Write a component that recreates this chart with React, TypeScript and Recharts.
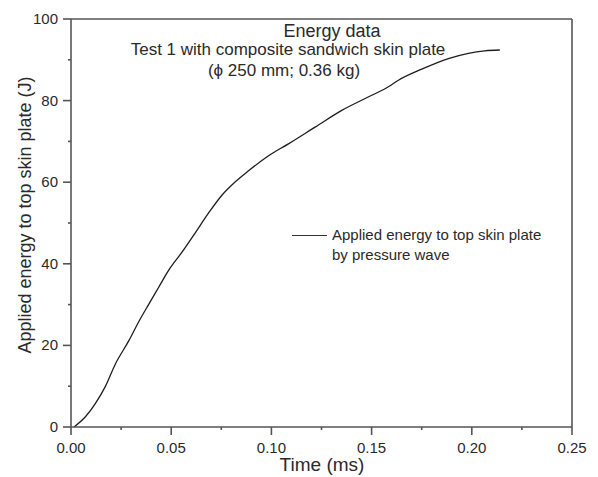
import { LineChart, Line, XAxis, YAxis, Legend, ReferenceLine } from 'recharts';

// values
const timeMs = [0.0015, 0.0072, 0.0122, 0.0171, 0.0221, 0.0288, 0.0338, 0.0387, 0.0437, 0.0487, 0.0553, 0.062, 0.0686, 0.0753, 0.082, 0.0886, 0.0986, 0.1085, 0.1218, 0.1351, 0.1501, 0.1584, 0.1634, 0.175, 0.1883, 0.1983, 0.2065, 0.214];
const energyJ = [0, 2.5, 5.8, 9.9, 15.4, 21.1, 25.8, 30.0, 34.2, 38.4, 42.8, 47.6, 52.4, 56.8, 60.1, 62.8, 66.5, 69.4, 73.5, 77.6, 81.3, 83.4, 85.0, 87.7, 90.3, 91.6, 92.2, 92.4];

const xTicks = [0, 0.025, 0.05, 0.075, 0.1, 0.125, 0.15, 0.175, 0.2, 0.225, 0.25];
const yTicks = [0, 10, 20, 30, 40, 50, 60, 70, 80, 90, 100];

const titleLines = ['Energy data', 'Test 1 with composite sandwich skin plate', '(\u03d5 250 mm; 0.36 kg)'];
const seriesName = ['Applied energy to top skin plate', 'by pressure wave'];
const xLabel = 'Time (ms)';
const yLabel = 'Applied energy to top skin plate (J)';

const data = timeMs.map((t, i) => ({ t, e: energyJ[i] }));

const FONT = '"Liberation Sans", Arial, sans-serif';
const INK = '#2a2a2a';
const AXIS = '#555';

const isMajor = (v: number, step: number) => Math.abs(v / step - Math.round(v / step)) < 1e-6;

function XTick({ x, y, payload }: any) {
    const major = isMajor(payload.value, 0.05);
    return (
        <g>
            <line x1={x} x2={x} y1={y} y2={y + (major ? 8 : 3)} stroke={AXIS} strokeWidth={1.6} />
            {major && (
                <text x={x} y={y + 26} textAnchor="middle" fontSize={15} fill={INK} fontFamily={FONT}>
                    {payload.value.toFixed(2)}
                </text>
            )}
        </g>
    );
}

function YTick({ x, y, payload }: any) {
    const major = isMajor(payload.value, 20);
    return (
        <g>
            <line x1={x - (major ? 8 : 3)} x2={x} y1={y} y2={y} stroke={AXIS} strokeWidth={1.6} />
            {major && (
                <text x={x - 13} y={y + 5} textAnchor="end" fontSize={15} fill={INK} fontFamily={FONT}>
                    {payload.value}
                </text>
            )}
        </g>
    );
}

function LegendBox() {
    return (
        <div style={{ display: 'flex', fontFamily: FONT, fontSize: 15, color: INK, lineHeight: '20px' }}>
            <div style={{ width: 35, height: 10, borderBottom: '1.3px solid #333', marginRight: 5 }} />
            <div style={{ textAlign: 'left' }}>
                {seriesName.map(s => <div key={s}>{s}</div>)}
            </div>
        </div>
    );
}

export default function App() {
    return (
        <div style={{ position: 'absolute', left: 0, top: 0, width: 598, height: 477, background: '#fff', overflow: 'hidden' }}>
            <LineChart width={598} height={477} data={data} margin={{ top: 19, right: 26, left: 11, bottom: 0 }}>
                <XAxis
                    dataKey="t"
                    type="number"
                    domain={[0, 0.25]}
                    ticks={xTicks}
                    interval={0}
                    height={50}
                    tickSize={0}
                    tickMargin={0}
                    tickLine={false}
                    tick={<XTick />}
                    axisLine={{ stroke: AXIS, strokeWidth: 1.6 }}
                />
                <YAxis
                    type="number"
                    domain={[0, 100]}
                    ticks={yTicks}
                    interval={0}
                    width={60}
                    tickSize={0}
                    tickMargin={0}
                    tickLine={false}
                    tick={<YTick />}
                    axisLine={{ stroke: AXIS, strokeWidth: 1.6 }}
                />
                <ReferenceLine y={100} stroke={AXIS} strokeWidth={1.6} />
                <ReferenceLine x={0.25} stroke={AXIS} strokeWidth={1.6} />
                <Legend
                    layout="horizontal"
                    verticalAlign="middle"
                    align="center"
                    content={<LegendBox />}
                    wrapperStyle={{ position: 'absolute', left: 292, top: 225, width: 280 }}
                />
                <Line
                    type="monotone"
                    dataKey="e"
                    name={seriesName.join(' ')}
                    stroke="#1e1e1e"
                    strokeWidth={1.3}
                    dot={false}
                    isAnimationActive={false}
                />
            </LineChart>

            <div style={{ position: 'absolute', left: 332, top: 31, transform: 'translate(-50%, -50%)', fontFamily: FONT, fontSize: 18, color: INK, whiteSpace: 'nowrap' }}>
                {titleLines[0]}
            </div>
            <div style={{ position: 'absolute', left: 288, top: 50, transform: 'translate(-50%, -50%)', fontFamily: FONT, fontSize: 17, color: INK, whiteSpace: 'nowrap' }}>
                {titleLines[1]}
            </div>
            <div style={{ position: 'absolute', left: 284, top: 71, transform: 'translate(-50%, -50%)', fontFamily: FONT, fontSize: 17, color: INK, whiteSpace: 'nowrap' }}>
                {titleLines[2]}
            </div>
            <div style={{ position: 'absolute', left: 322, top: 465, transform: 'translate(-50%, -50%)', fontFamily: FONT, fontSize: 19, color: INK, whiteSpace: 'nowrap' }}>
                {xLabel}
            </div>
            <div style={{ position: 'absolute', left: 25, top: 215, transform: 'translate(-50%, -50%) rotate(-90deg)', fontFamily: FONT, fontSize: 18, color: INK, whiteSpace: 'nowrap' }}>
                {yLabel}
            </div>
        </div>
    );
}
